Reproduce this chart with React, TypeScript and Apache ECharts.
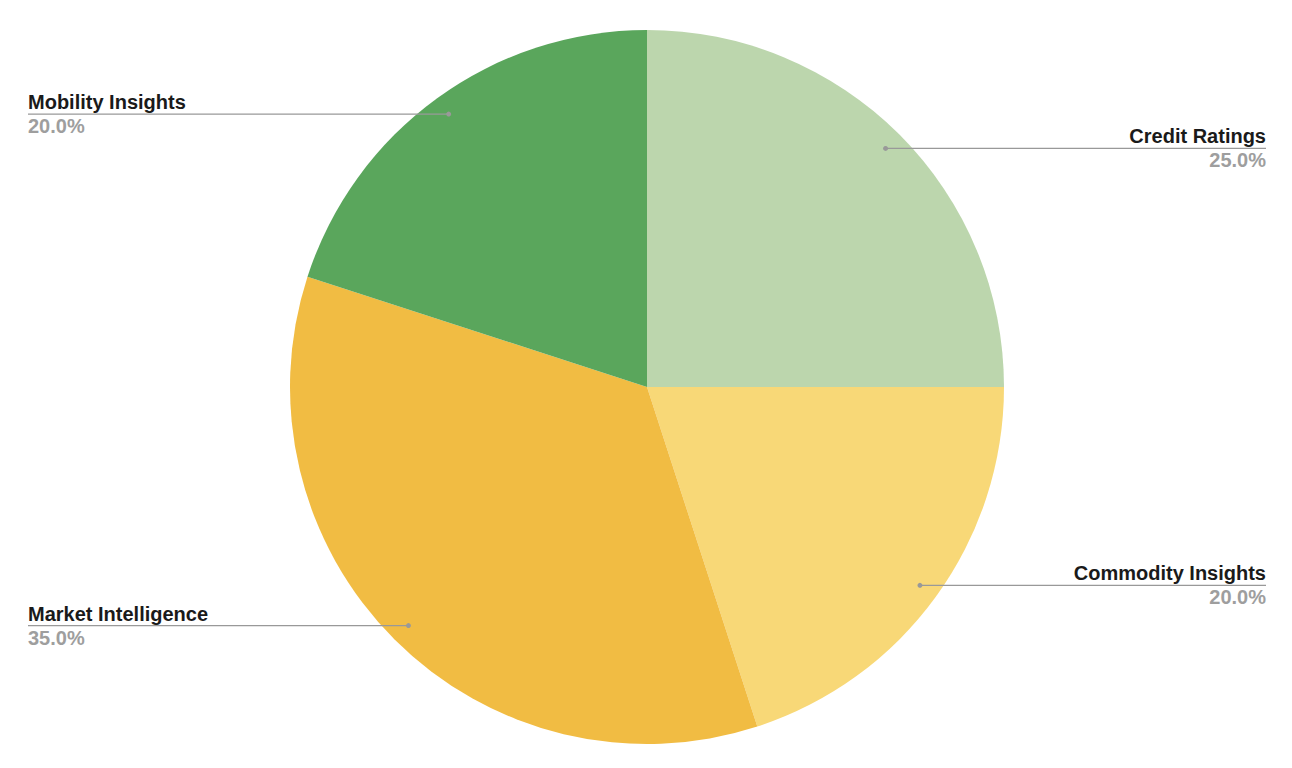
import React, { useEffect, useRef } from 'react';
import * as echarts from 'echarts';

const categories = ['Credit Ratings', 'Commodity Insights', 'Market Intelligence', 'Mobility Insights'];
const shares = [25, 20, 35, 20];
const colors = ['#BCD6AD', '#F8D877', '#F1BC43', '#5AA65C'];

const CX = 647;
const CY = 387;
const R = 357;
const ANCHOR = 0.945;
const LEFT_EDGE = 28;
const RIGHT_EDGE = 1266;
const FONT = '"Liberation Sans", Arial, Helvetica, sans-serif';

export default function App() {
  const ref = useRef<HTMLDivElement>(null);
  useEffect(() => {
    const chart = echarts.init(ref.current!, null, { renderer: 'svg' });
    const total = shares.reduce((a, b) => a + b, 0);
    const anchors: number[][] = [];
    let acc = 0;
    shares.forEach((v) => {
      const mid = ((acc + v / 2) / total) * 2 * Math.PI;
      acc += v;
      anchors.push([CX + ANCHOR * R * Math.sin(mid), CY - ANCHOR * R * Math.cos(mid)]);
    });
    const base = { fontSize: 20, fontWeight: 'bold', lineHeight: 24, fontFamily: FONT };
    const rich = {
      nr: { ...base, color: '#1a1a1a', align: 'right' },
      vr: { ...base, color: '#9e9e9e', align: 'right' },
      nl: { ...base, color: '#1a1a1a', align: 'left' },
      vl: { ...base, color: '#9e9e9e', align: 'left' },
    };
    const graphics: any[] = [];
    anchors.forEach((a) => {
      const right = a[0] > CX;
      const ex = right ? RIGHT_EDGE : LEFT_EDGE;
      graphics.push({
        type: 'line',
        z: 100,
        shape: { x1: a[0], y1: a[1], x2: ex, y2: a[1] },
        style: { stroke: '#999999', lineWidth: 1.3 },
      });
      graphics.push({
        type: 'circle',
        z: 101,
        shape: { cx: a[0], cy: a[1], r: 2.5 },
        style: { fill: '#999999' },
      });
    });
    chart.setOption({
      animation: false,
      backgroundColor: '#ffffff',
      series: [
        {
          type: 'pie',
          center: [CX, CY],
          radius: R,
          startAngle: 90,
          clockwise: true,
          data: categories.map((c, i) => ({ name: c, value: shares[i], itemStyle: { color: colors[i] } })),
          itemStyle: { borderWidth: 0 },
          emphasis: { disabled: true },
          label: {
            show: true,
            position: 'outside',
            fontFamily: FONT,
            formatter: (p: any) => {
              const right = anchors[p.dataIndex][0] > CX;
              const pct = ((p.value / total) * 100).toFixed(1) + '%';
              return right ? `{nr|${p.name}}\n{vr|${pct}}` : `{nl|${p.name}}\n{vl|${pct}}`;
            },
            rich,
          },
          labelLine: { show: false },
          labelLayout: (p: any) => {
            const [ax, ay] = anchors[p.dataIndex];
            const right = ax > CX;
            const ex = right ? RIGHT_EDGE : LEFT_EDGE;
            return {
              x: ex,
              y: ay,
              align: right ? 'right' : 'left',
              verticalAlign: 'middle',
            };
          },
        },
      ],
      graphic: graphics,
    });
    return () => chart.dispose();
  }, []);
  return <div ref={ref} style={{ position: 'absolute', left: 0, top: 0, width: 1292, height: 768 }} />;
}
